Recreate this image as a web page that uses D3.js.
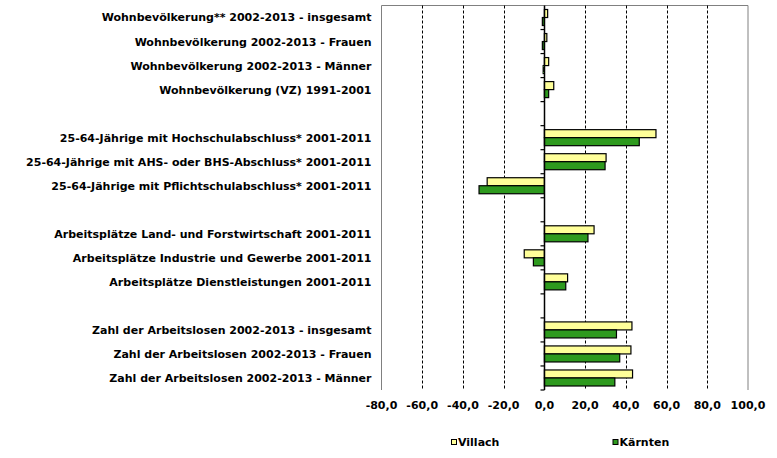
<!DOCTYPE html>
<html>
<head>
<meta charset="utf-8">
<script src="https://cdn.jsdelivr.net/npm/d3@7"></script>
<style>
  html, body { margin: 0; padding: 0; background: #fff; }
  svg { display: block; }
  text { font-family: "DejaVu Sans", Verdana, sans-serif; font-weight: bold; fill: #000; }
</style>
</head>
<body>
<svg id="chart" width="777" height="458"></svg>
<script>
// ---- data ----
const categories = [
  "Wohnbevölkerung** 2002-2013 - insgesamt",
  "Wohnbevölkerung 2002-2013 - Frauen",
  "Wohnbevölkerung 2002-2013 - Männer",
  "Wohnbevölkerung (VZ) 1991-2001",
  "",
  "25-64-Jährige mit Hochschulabschluss* 2001-2011",
  "25-64-Jährige mit AHS- oder BHS-Abschluss* 2001-2011",
  "25-64-Jährige mit Pflichtschulabschluss* 2001-2011",
  "",
  "Arbeitsplätze Land- und Forstwirtschaft 2001-2011",
  "Arbeitsplätze Industrie und Gewerbe 2001-2011",
  "Arbeitsplätze Dienstleistungen 2001-2011",
  "",
  "Zahl der Arbeitslosen 2002-2013 - insgesamt",
  "Zahl der Arbeitslosen 2002-2013 - Frauen",
  "Zahl der Arbeitslosen 2002-2013 - Männer"
];
const seriesNames = ["Villach", "Kärnten"];
const villach  = [1.6, 1.2, 2.1, 4.6, null, 54.8, 30.3, -28.1, null, 24.4, -9.9, 11.4, null, 43.0, 42.5, 43.3];
const kaernten = [-1.0, -1.0, -0.6, 2.1, null, 46.6, 29.8, -32.1, null, 21.4, -5.4, 10.5, null, 35.4, 37.0, 34.6];
const xTicks = [-80, -60, -40, -20, 0, 20, 40, 60, 80, 100];
const gridTicks = [-60, -40, -20, 20, 40, 60, 80];

// ---- layout ----
const plot = { left: 381.5, right: 748, top: 5.5, bottom: 390 };
const colors = { "Villach": "#ffff99", "Kärnten": "#2e9a1e" };

const svg = d3.select("#chart");

const x = d3.scaleLinear().domain([-80, 100]).range([plot.left, plot.right]);
const y = d3.scaleBand().domain(d3.range(categories.length)).range([plot.top, plot.bottom]).paddingInner(0).paddingOuter(0);
const ySub = d3.scaleBand().domain(seriesNames).range([0, y.bandwidth()]).paddingInner(0).paddingOuter(0.5);

const locale = d3.formatLocale({ decimal: ",", thousands: ".", grouping: [3], currency: ["", " €"], minus: "-" });
const fmt = locale.format(".1f");

// plot border (left, top, right)
svg.append("path")
  .attr("d", `M${plot.left},${plot.bottom} V${plot.top} H${plot.right} V${plot.bottom}`)
  .attr("fill", "none").attr("stroke", "#808080").attr("stroke-width", 1);

// gridlines
svg.append("g").selectAll("line").data(gridTicks).join("line")
  .attr("x1", d => Math.round(x(d)) + 0.5).attr("x2", d => Math.round(x(d)) + 0.5)
  .attr("y1", plot.top).attr("y2", plot.bottom)
  .attr("stroke", "#000").attr("stroke-width", 1).attr("stroke-dasharray", "3,2");

// bars
const rows = categories.map((c, i) => ({ i, vals: [
  { s: "Villach", v: villach[i] },
  { s: "Kärnten", v: kaernten[i] }
]})).filter(r => r.vals[0].v !== null);

svg.append("g").selectAll("g").data(rows).join("g")
  .attr("transform", d => `translate(0,${y(d.i)})`)
  .selectAll("rect").data(d => d.vals).join("rect")
  .attr("x", d => x(Math.min(0, d.v)))
  .attr("width", d => Math.abs(x(d.v) - x(0)))
  .attr("y", d => ySub(d.s))
  .attr("height", ySub.bandwidth())
  .attr("fill", d => colors[d.s])
  .attr("stroke", "#000").attr("stroke-width", 1.2);

// zero axis with ticks on the left
const x0 = Math.round(x(0)) + 0.5;
const ax = svg.append("g").attr("transform", `translate(${x0},0)`);
ax.append("line").attr("x1", 0).attr("x2", 0).attr("y1", plot.top).attr("y2", plot.bottom)
  .attr("stroke", "#000").attr("stroke-width", 1.5);
ax.selectAll("line.tk").data(d3.range(categories.length)).join("line").attr("class", "tk")
  .attr("x1", -4).attr("x2", 0)
  .attr("y1", d => y(d) + y.bandwidth()).attr("y2", d => y(d) + y.bandwidth())
  .attr("stroke", "#000").attr("stroke-width", 1.2);

// category labels
svg.append("g").selectAll("text").data(categories).join("text")
  .attr("x", 371.5)
  .attr("y", (d, i) => y(i) + y.bandwidth() / 2)
  .attr("dy", "0.36em")
  .attr("text-anchor", "end")
  .attr("font-size", 11)
  .text(d => d);

// x tick labels
svg.append("g").selectAll("text").data(xTicks).join("text")
  .attr("x", d => x(d))
  .attr("y", 409)
  .attr("text-anchor", "middle")
  .attr("font-size", 11)
  .text(d => fmt(d));

// legend
const legend = [ { s: "Villach", x: 451 }, { s: "Kärnten", x: 612.5 } ];
const lg = svg.append("g").selectAll("g").data(legend).join("g")
  .attr("transform", d => `translate(${d.x},439)`);
lg.append("rect").attr("x", 0.5).attr("y", 0.5).attr("width", 5).attr("height", 5)
  .attr("fill", d => colors[d.s]).attr("stroke", "#000").attr("stroke-width", 1);
lg.append("text").attr("x", 7).attr("y", 6.5).attr("font-size", 11).text(d => d.s);
</script>
</body>
</html>
